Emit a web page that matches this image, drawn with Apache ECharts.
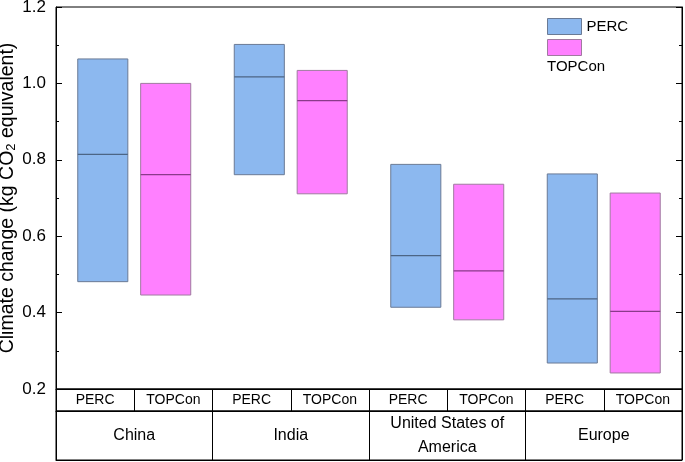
<!DOCTYPE html>
<html>
<head>
<meta charset="utf-8">
<script src="https://cdn.jsdelivr.net/npm/echarts@6/dist/echarts.min.js"></script>
<style>
html,body{margin:0;padding:0;background:#fff;}
#chart{width:685px;height:462px;}
</style>
</head>
<body>
<div id="chart"></div>
<script>
// ---- data ----
const countries = ['China', 'India', 'United States of\nAmerica', 'Europe'];
const techs = ['PERC', 'TOPCon'];
const yTicks = [0.2, 0.4, 0.6, 0.8, 1.0, 1.2];
const percLow    = [0.481, 0.761, 0.414, 0.268];
const percMedian = [0.814, 1.017, 0.549, 0.436];
const percHigh   = [1.064, 1.102, 0.788, 0.763];
const topLow     = [0.446, 0.711, 0.381, 0.242];
const topMedian  = [0.761, 0.955, 0.509, 0.403];
const topHigh    = [1.000, 1.034, 0.736, 0.713];

const FONT = 'Liberation Sans, Arial, sans-serif';
const subLabels = [];
countries.forEach(() => techs.forEach(t => subLabels.push(t)));

function makeData(lo, med, hi) {
  return lo.map((v, i) => [i, v, med[i], hi[i]]);
}

function makeRender(side, fill, border, medColor) {
  return function (params, api) {
    const x = api.value(0);
    const pHi = api.coord([x, api.value(3)]);
    const pLo = api.coord([x, api.value(1)]);
    const pMed = api.coord([x, api.value(2)]);
    const band = api.size([1, 0])[0];
    const w = band * 0.32;
    const cx = pHi[0] + side * band * 0.201;
    const x0 = cx - w / 2;
    return {
      type: 'group',
      children: [
        { type: 'rect', shape: { x: x0, y: pHi[1], width: w, height: pLo[1] - pHi[1] },
          style: { fill: fill, stroke: border, lineWidth: 1 } },
        { type: 'line', shape: { x1: x0, y1: pMed[1], x2: x0 + w, y2: pMed[1] },
          style: { stroke: medColor, lineWidth: 1.3 } }
      ]
    };
  };
}

const chart = echarts.init(document.getElementById('chart'));
const gridBase = { left: 56, right: 3, show: true, borderColor: '#000', borderWidth: 1, containLabel: false, outerBoundsMode: 'none' };
const option = {
  animation: false,
  backgroundColor: '#fff',
  textStyle: { fontFamily: FONT },
  grid: [
    Object.assign({}, gridBase, { top: 7, height: 382 }),
    Object.assign({}, gridBase, { top: 389, height: 22 }),
    Object.assign({}, gridBase, { top: 411, height: 49 })
  ],
  legend: {
    orient: 'vertical', left: 547, top: 18, padding: 0, itemWidth: 34, itemHeight: 16, itemGap: 4,
    icon: 'rect',
    textStyle: { fontFamily: FONT, fontSize: 15, color: '#000' },
    formatter: n => (n === 'PERC' ? n : ''),
    data: [
      { name: 'PERC', itemStyle: { color: '#8cb8ef', borderColor: '#6a7a95', borderWidth: 1 } },
      { name: 'TOPCon', itemStyle: { color: '#ff80ff', borderColor: '#a07aa0', borderWidth: 1 } }
    ]
  },
  graphic: [
    { type: 'text', left: 547, top: 59, style: { text: 'TOPCon', font: '15px ' + FONT, fill: '#000' } }
  ],
  xAxis: [
    { type: 'category', gridIndex: 0, data: countries, axisLabel: { show: false }, axisTick: { show: false },
      axisLine: { lineStyle: { color: '#000' } } },
    { type: 'category', gridIndex: 1, data: subLabels, axisTick: { show: false },
      axisLine: { lineStyle: { color: '#000' } },
      splitLine: { show: true, interval: 0, lineStyle: { color: '#000', width: 1 } },
      axisLabel: { inside: true, interval: 0, margin: 11, verticalAlign: 'middle', fontSize: 14, color: '#000', fontFamily: FONT } },
    { type: 'category', gridIndex: 2, data: countries, axisTick: { show: false },
      axisLine: { lineStyle: { color: '#000' } },
      splitLine: { show: true, interval: 0, lineStyle: { color: '#000', width: 1 } },
      axisLabel: { inside: true, interval: 0, margin: 24.5, verticalAlign: 'middle', fontSize: 16, lineHeight: 24, color: '#000', fontFamily: FONT } }
  ],
  yAxis: [
    { type: 'value', gridIndex: 0, min: yTicks[0], max: yTicks[yTicks.length - 1], interval: 0.2,
      name: 'Climate change (kg CO{sub|2} equivalent)', nameLocation: 'middle', nameGap: 38, nameMoveOverlap: false,
      nameTextStyle: { fontSize: 19.5, color: '#000', fontFamily: FONT,
        rich: { sub: { fontSize: 13, verticalAlign: 'bottom', padding: [8, 0, 0, 0], fontFamily: FONT, color: '#000' } } },
      axisLine: { show: true, lineStyle: { color: '#000' } },
      axisTick: { show: true, inside: true, length: 6, lineStyle: { color: '#000' } },
      minorTick: { show: true, splitNumber: 2, length: 3, lineStyle: { color: '#000' } },
      splitLine: { show: false },
      axisLabel: { fontSize: 17, color: '#000', margin: 10, fontFamily: FONT, formatter: v => v.toFixed(1) } },
    { type: 'value', gridIndex: 0, position: 'right', min: yTicks[0], max: yTicks[yTicks.length - 1], interval: 0.2,
      axisLine: { show: true, lineStyle: { color: '#000' } },
      axisTick: { show: true, inside: true, length: 6, lineStyle: { color: '#000' } },
      minorTick: { show: true, splitNumber: 2, length: 3, lineStyle: { color: '#000' } },
      splitLine: { show: false }, axisLabel: { show: false } },
    { type: 'value', gridIndex: 1, show: false },
    { type: 'value', gridIndex: 2, show: false }
  ],
  series: [
    { name: 'PERC', type: 'custom', xAxisIndex: 0, yAxisIndex: 0,
      itemStyle: { color: '#8cb8ef', borderColor: '#6a7a95' },
      renderItem: makeRender(-1, '#8cb8ef', '#6a7a95', '#4c6585'),
      encode: { x: 0, y: [1, 2, 3] },
      data: makeData(percLow, percMedian, percHigh) },
    { name: 'TOPCon', type: 'custom', xAxisIndex: 0, yAxisIndex: 0,
      itemStyle: { color: '#ff80ff', borderColor: '#a07aa0' },
      renderItem: makeRender(1, '#ff80ff', '#a07aa0', '#8a3a8a'),
      encode: { x: 0, y: [1, 2, 3] },
      data: makeData(topLow, topMedian, topHigh) }
  ]
};
chart.setOption(option);
</script>
</body>
</html>
